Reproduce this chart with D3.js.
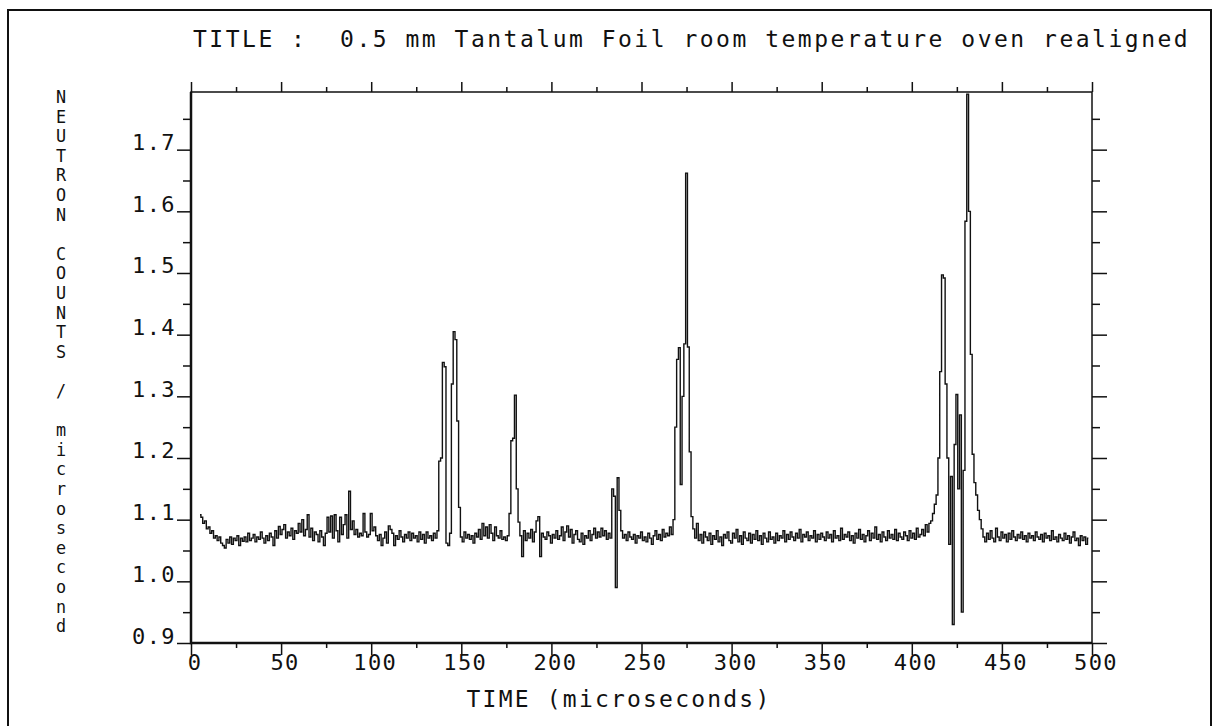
<!DOCTYPE html>
<html lang="en">
<head>
<meta charset="UTF-8">
<title>Neutron counts - Tantalum foil</title>
<script src="https://d3js.org/d3.v7.min.js"></script>
<style>
  body { margin: 0; background: #fff; }
  text { font-family: "DejaVu Sans Mono", "Liberation Mono", monospace; fill: #111; }
</style>
</head>
<body>
<div class="chart"></div>

<script>
// time channels start at 5 microseconds, one value per microsecond
var t0 = 5;
var counts = [
  1.108, 1.104, 1.094, 1.098, 1.085, 1.088, 1.078, 1.082, 1.070, 1.074,
  1.066, 1.072, 1.062, 1.058, 1.054, 1.068, 1.062, 1.072, 1.060, 1.070,
  1.066, 1.074, 1.058, 1.070, 1.065, 1.072, 1.064, 1.078, 1.066, 1.070,
  1.076, 1.064, 1.072, 1.068, 1.080, 1.070, 1.062, 1.074, 1.066, 1.078,
  1.072, 1.058, 1.082, 1.070, 1.089, 1.076, 1.084, 1.092, 1.070, 1.080,
  1.074, 1.086, 1.068, 1.082, 1.078, 1.094, 1.080, 1.100, 1.074, 1.084,
  1.108, 1.072, 1.086, 1.066, 1.080, 1.076, 1.064, 1.082, 1.072, 1.058,
  1.078, 1.104, 1.080, 1.106, 1.070, 1.108, 1.082, 1.064, 1.104, 1.076,
  1.092, 1.108, 1.070, 1.146, 1.084, 1.098, 1.076, 1.084, 1.072, 1.078,
  1.074, 1.110, 1.080, 1.072, 1.076, 1.110, 1.082, 1.088, 1.074, 1.066,
  1.076, 1.058, 1.070, 1.080, 1.062, 1.090, 1.084, 1.078, 1.058, 1.074,
  1.068, 1.082, 1.072, 1.064, 1.076, 1.070, 1.080, 1.066, 1.078, 1.070,
  1.074, 1.064, 1.080, 1.068, 1.076, 1.062, 1.080, 1.070, 1.074, 1.066,
  1.078, 1.070, 1.082, 1.195, 1.200, 1.355, 1.348, 1.062, 1.058, 1.078,
  1.320, 1.405, 1.392, 1.260, 1.120, 1.072, 1.064, 1.080, 1.070, 1.076,
  1.068, 1.074, 1.062, 1.078, 1.072, 1.084, 1.068, 1.094, 1.074, 1.088,
  1.070, 1.092, 1.078, 1.066, 1.088, 1.074, 1.070, 1.082, 1.068, 1.072,
  1.066, 1.074, 1.110, 1.228, 1.232, 1.302, 1.150, 1.096, 1.074, 1.040,
  1.082, 1.066, 1.078, 1.070, 1.084, 1.064, 1.080, 1.098, 1.105, 1.040,
  1.078, 1.072, 1.068, 1.080, 1.074, 1.062, 1.076, 1.070, 1.082, 1.068,
  1.074, 1.088, 1.066, 1.080, 1.090, 1.072, 1.084, 1.062, 1.076, 1.082,
  1.068, 1.064, 1.078, 1.060, 1.074, 1.070, 1.082, 1.066, 1.076, 1.086,
  1.070, 1.080, 1.072, 1.086, 1.074, 1.082, 1.068, 1.078, 1.070, 1.150,
  1.138, 0.990, 1.168, 1.115, 1.082, 1.070, 1.076, 1.066, 1.080, 1.072,
  1.068, 1.076, 1.062, 1.074, 1.070, 1.080, 1.066, 1.072, 1.064, 1.078,
  1.070, 1.060, 1.074, 1.082, 1.068, 1.076, 1.066, 1.084, 1.072, 1.078,
  1.074, 1.088, 1.076, 1.100, 1.250, 1.360, 1.379, 1.157, 1.300, 1.385,
  1.662, 1.380, 1.210, 1.105, 1.085, 1.070, 1.094, 1.066, 1.076, 1.062,
  1.080, 1.072, 1.066, 1.078, 1.060, 1.074, 1.068, 1.082, 1.064, 1.072,
  1.058, 1.076, 1.070, 1.080, 1.066, 1.062, 1.078, 1.070, 1.084, 1.064,
  1.074, 1.060, 1.080, 1.070, 1.066, 1.078, 1.062, 1.076, 1.068, 1.082,
  1.066, 1.074, 1.060, 1.078, 1.070, 1.064, 1.080, 1.068, 1.072, 1.062,
  1.078, 1.066, 1.074, 1.070, 1.082, 1.064, 1.076, 1.068, 1.080, 1.072,
  1.066, 1.078, 1.070, 1.084, 1.064, 1.076, 1.072, 1.080, 1.066, 1.074,
  1.070, 1.082, 1.064, 1.076, 1.068, 1.078, 1.072, 1.066, 1.080, 1.070,
  1.076, 1.064, 1.082, 1.070, 1.074, 1.066, 1.086, 1.068, 1.076, 1.072,
  1.080, 1.066, 1.074, 1.062, 1.078, 1.070, 1.084, 1.068, 1.076, 1.064,
  1.074, 1.082, 1.066, 1.078, 1.070, 1.088, 1.068, 1.076, 1.064, 1.080,
  1.072, 1.066, 1.082, 1.070, 1.076, 1.068, 1.084, 1.066, 1.078, 1.072,
  1.068, 1.080, 1.074, 1.066, 1.082, 1.070, 1.078, 1.068, 1.086, 1.072,
  1.076, 1.084, 1.074, 1.092, 1.080, 1.094, 1.098, 1.110, 1.125, 1.140,
  1.200, 1.340, 1.497, 1.492, 1.320, 1.200, 1.060, 1.170, 0.930, 1.222,
  1.303, 1.150, 1.270, 0.950, 1.180, 1.584, 1.790, 1.600, 1.368, 1.206,
  1.160, 1.140, 1.115, 1.100, 1.085, 1.072, 1.064, 1.078, 1.068, 1.082,
  1.070, 1.064, 1.086, 1.072, 1.066, 1.080, 1.070, 1.076, 1.064, 1.078,
  1.068, 1.082, 1.072, 1.066, 1.076, 1.070, 1.080, 1.068, 1.074, 1.064,
  1.078, 1.070, 1.074, 1.066, 1.080, 1.072, 1.068, 1.076, 1.064, 1.078,
  1.070, 1.074, 1.066, 1.082, 1.068, 1.072, 1.064, 1.076, 1.070, 1.066,
  1.078, 1.068, 1.074, 1.062, 1.072, 1.080, 1.066, 1.070, 1.058, 1.074,
  1.066, 1.072, 1.060, 1.070
];

// axis ticks and labels
var xMajor = [0, 50, 100, 150, 200, 250, 300, 350, 400, 450, 500];
var xMinor = [25, 75, 125, 175, 225, 275, 325, 375, 425, 475];
var yMajor = [0.9, 1.0, 1.1, 1.2, 1.3, 1.4, 1.5, 1.6, 1.7];
var yMinor = [0.95, 1.05, 1.15, 1.25, 1.35, 1.45, 1.55, 1.65, 1.75];

var titleText = "TITLE :  0.5 mm Tantalum Foil room temperature oven realigned";
var xTitle = "TIME (microseconds)";
var yTitle = "NEUTRON COUNTS / microsecond";

// page and plot box
var W = 1213, H = 726;
var plot = {left: 191, top: 92, right: 1092, bottom: 643};

var svg = d3.select(".chart").append("svg")
    .attr("width", W)
    .attr("height", H);

// outer frame of the sheet
svg.append("rect")
    .attr("x", 8).attr("y", 10)
    .attr("width", 1203).attr("height", 740)
    .style("fill", "none")
    .style("stroke", "#111")
    .style("stroke-width", 2);

var x = d3.scaleLinear()
    .domain([0, 500])
    .range([plot.left, plot.right]);
var y = d3.scaleLinear()
    .domain([0.9, 1.7935])
    .range([plot.bottom, plot.top]);

// title
svg.append("text")
    .attr("x", 193)
    .attr("y", 47)
    .style("font-size", "23px")
    .style("letter-spacing", "2.5px")
    .style("white-space", "pre")
    .attr("xml:space", "preserve")
    .text(titleText);

// clip for the data line
svg.append("clipPath").attr("id", "clip")
  .append("rect")
    .attr("x", plot.left).attr("y", plot.top)
    .attr("width", plot.right - plot.left)
    .attr("height", plot.bottom - plot.top);

// the counts trace
var trace = d3.line()
    .x(function(d, i) { return x(t0 + i); })
    .y(function(d) { return y(d); })
    .curve(d3.curveStep);

svg.append("path")
    .datum(counts)
    .attr("clip-path", "url(#clip)")
    .attr("d", trace)
    .style("fill", "none")
    .style("stroke", "#111")
    .style("stroke-width", 1.4)
    .style("stroke-linejoin", "miter");

function tidy(g) {
  g.select(".domain").remove();
  g.selectAll(".tick line").style("stroke", "#111").style("stroke-width", 1.5);
}

// bottom axis
svg.append("g")
    .attr("transform", "translate(0," + plot.bottom + ")")
    .call(d3.axisBottom(x).tickValues(xMinor).tickSize(5).tickFormat(""))
    .call(tidy);
var xb = svg.append("g")
    .attr("transform", "translate(0," + plot.bottom + ")")
    .call(d3.axisBottom(x).tickValues(xMajor).tickSize(12).tickFormat(d3.format("d")))
    .call(tidy);
xb.selectAll("text")
    .attr("y", 27)
    .attr("dy", 0)
    .attr("dx", 3.5)
    .style("font-size", "22px")
    .style("letter-spacing", "1.4px")
    .style("fill", "#111");

// top axis
svg.append("g")
    .attr("transform", "translate(0," + plot.top + ")")
    .call(d3.axisTop(x).tickValues(xMinor).tickSize(5).tickFormat(""))
    .call(tidy);
svg.append("g")
    .attr("transform", "translate(0," + plot.top + ")")
    .call(d3.axisTop(x).tickValues(xMajor).tickSize(10).tickFormat(""))
    .call(tidy);

// left axis
svg.append("g")
    .attr("transform", "translate(" + plot.left + ",0)")
    .call(d3.axisLeft(y).tickValues(yMinor).tickSize(8).tickFormat(""))
    .call(tidy);
var yl = svg.append("g")
    .attr("transform", "translate(" + plot.left + ",0)")
    .call(d3.axisLeft(y).tickValues(yMajor).tickSize(14).tickFormat(d3.format(".1f")))
    .call(tidy);
yl.selectAll("text")
    .attr("x", -15)
    .attr("dy", 0)
    .style("font-size", "22px")
    .style("letter-spacing", "1.4px")
    .style("fill", "#111");

// right axis
svg.append("g")
    .attr("transform", "translate(" + plot.right + ",0)")
    .call(d3.axisRight(y).tickValues(yMinor).tickSize(8).tickFormat(""))
    .call(tidy);
svg.append("g")
    .attr("transform", "translate(" + plot.right + ",0)")
    .call(d3.axisRight(y).tickValues(yMajor).tickSize(15).tickFormat(""))
    .call(tidy);

// plot box
svg.append("rect")
    .attr("x", plot.left).attr("y", plot.top)
    .attr("width", plot.right - plot.left)
    .attr("height", plot.bottom - plot.top)
    .style("fill", "none")
    .style("stroke", "#111")
    .style("stroke-width", 1.5);
svg.append("path")
    .attr("d", "M" + plot.left + "," + plot.top + "V" + plot.bottom + "H" + plot.right)
    .style("fill", "none")
    .style("stroke", "#111")
    .style("stroke-width", 2.5);

// x axis title
svg.append("text")
    .attr("x", 619)
    .attr("y", 707)
    .style("text-anchor", "middle")
    .style("font-size", "23px")
    .style("letter-spacing", "2.2px")
    .text(xTitle);

// y axis title, letters stacked upright
svg.append("g").selectAll("text")
    .data(yTitle.split(""))
    .enter().append("text")
    .attr("x", 61)
    .attr("y", function(d, i) { return 103 + i * 19.6; })
    .style("text-anchor", "middle")
    .style("font-size", "16.8px")
    .text(function(d) { return d; });
</script>
</body>
</html>
